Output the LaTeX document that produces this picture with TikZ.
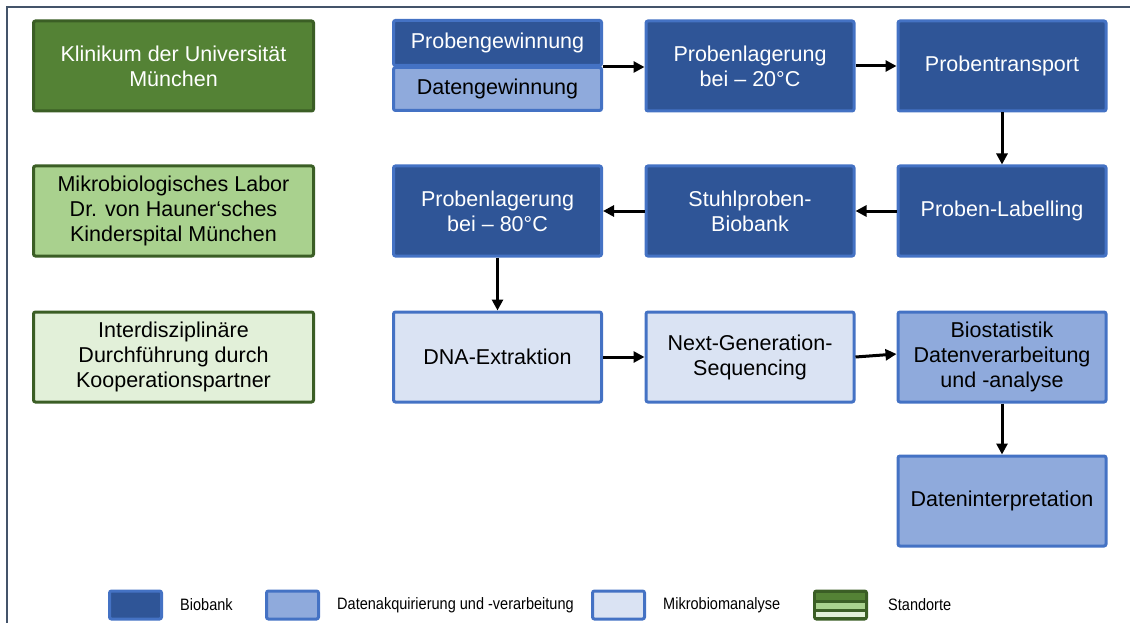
\documentclass[tikz,border=0pt]{standalone}
\usepackage{fontspec}
\setmainfont{Liberation Sans}
\newfontfamily\legfont[FakeStretch=0.88]{Liberation Sans}
\usetikzlibrary{arrows.meta}
\definecolor{bdark}{HTML}{2F5597}
\definecolor{bmid}{HTML}{8FAADC}
\definecolor{blight}{HTML}{DAE3F3}
\definecolor{bborder}{HTML}{4472C4}
\definecolor{gdark}{HTML}{548235}
\definecolor{gmid}{HTML}{A9D18E}
\definecolor{glight}{HTML}{E2F0D9}
\definecolor{gborder}{HTML}{3B5E25}
\definecolor{frame}{HTML}{44546A}
\tikzset{
  box/.style={draw=bborder, line width=3pt, rounded corners=2pt, inner sep=0pt,
    minimum width=208pt, minimum height=90pt, align=center,
    font=\fontsize{21.5}{25}\selectfont},
  bio/.style={box, fill=bdark, text=white},
  dat/.style={box, fill=bmid, text=black},
  mik/.style={box, fill=blight, text=black},
  site/.style={box, draw=gborder, minimum width=280pt},
  flow/.style={line width=3pt, -{Triangle[length=11pt,width=11pt]}},
  legbox/.style={draw=bborder, line width=3pt, rounded corners=2pt, minimum width=52pt, minimum height=28pt, inner sep=0pt},
  legtext/.style={anchor=west, inner sep=0pt, font=\legfont\fontsize{16.5}{18}\selectfont}
}
\begin{document}
\begin{tikzpicture}[x=1pt,y=-1pt]
\useasboundingbox (0,0) rectangle (1130,623);
\draw[frame, line width=1.5pt] (7,640) -- (7,7) -- (1140,7);

% site boxes
\node[site, fill=gdark, text=white] (s1) at (173.5,66) {Klinikum der Universität\\München};
\node[site, fill=gmid, text=black] (s2) at (173.5,211) {Mikrobiologisches Labor\\Dr. von Hauner‘sches\\Kinderspital München};
\node[site, fill=glight, text=black] (s3) at (173.5,357) {Interdisziplinäre\\Durchführung durch\\Kooperationspartner};

% row 1
\node[bio, minimum height=45pt] (pg) at (497.5,43) {Probengewinnung};
\node[dat, minimum height=43pt] (dg) at (497.5,89) {Datengewinnung};
\node[bio] (pl20) at (750,66) {Probenlagerung\\bei – 20°C};
\node[bio] (pt) at (1002,66) {Probentransport};
% row 2
\node[bio] (lab) at (1002,211) {Proben-Labelling};
\node[bio] (stb) at (750,211) {Stuhlproben-\\Biobank};
\node[bio] (pl80) at (497.5,211) {Probenlagerung\\bei – 80°C};
% row 3
\node[mik] (dna) at (497.5,357) {DNA-Extraktion};
\node[mik] (ngs) at (750,357) {Next-Generation-\\Sequencing};
\node[dat] (bst) at (1002,357) {Biostatistik\\Datenverarbeitung\\und -analyse};
% row 4
\node[dat] (dip) at (1002,501) {Dateninterpretation};

% arrows
\coordinate (pgout) at (pg.south east);
\draw[flow] (pgout) -- (pgout -| pl20.west);
\draw[flow] (pl20.east) -- (pt.west);
\draw[flow] (pt.south) -- (lab.north);
\draw[flow] (lab.west) -- (stb.east);
\draw[flow] (stb.west) -- (pl80.east);
\draw[flow] (pl80.south) -- (dna.north);
\draw[flow] (dna.east) -- (ngs.west);
\draw[flow] (ngs.east) -- ([yshift=3pt]bst.west);
\draw[flow] (bst.south) -- (dip.north);

% legend
\node[legbox, fill=bdark] (l1) at (135.5,605) {};
\node[legtext] (t1) at (180,605) {Biobank};
\node[legbox, fill=bmid] (l2) at (292.5,605) {};
\node[legtext] (t2) at (337,605) {Datenakquirierung und -verarbeitung};
\node[legbox, fill=blight] (l3) at (618.5,605) {};
\node[legtext] (t3) at (663,605) {Mikrobiomanalyse};
\node[legbox, draw=gborder, fill=gborder] (l4) at (840.5,605) {};
\fill[gdark] (816,593) rectangle (865,600);
\fill[gmid] (816,603) rectangle (865,609);
\fill[glight] (816,612) rectangle (865,617);
\node[legtext] (t4) at (888,605) {Standorte};
\end{tikzpicture}
\end{document}
